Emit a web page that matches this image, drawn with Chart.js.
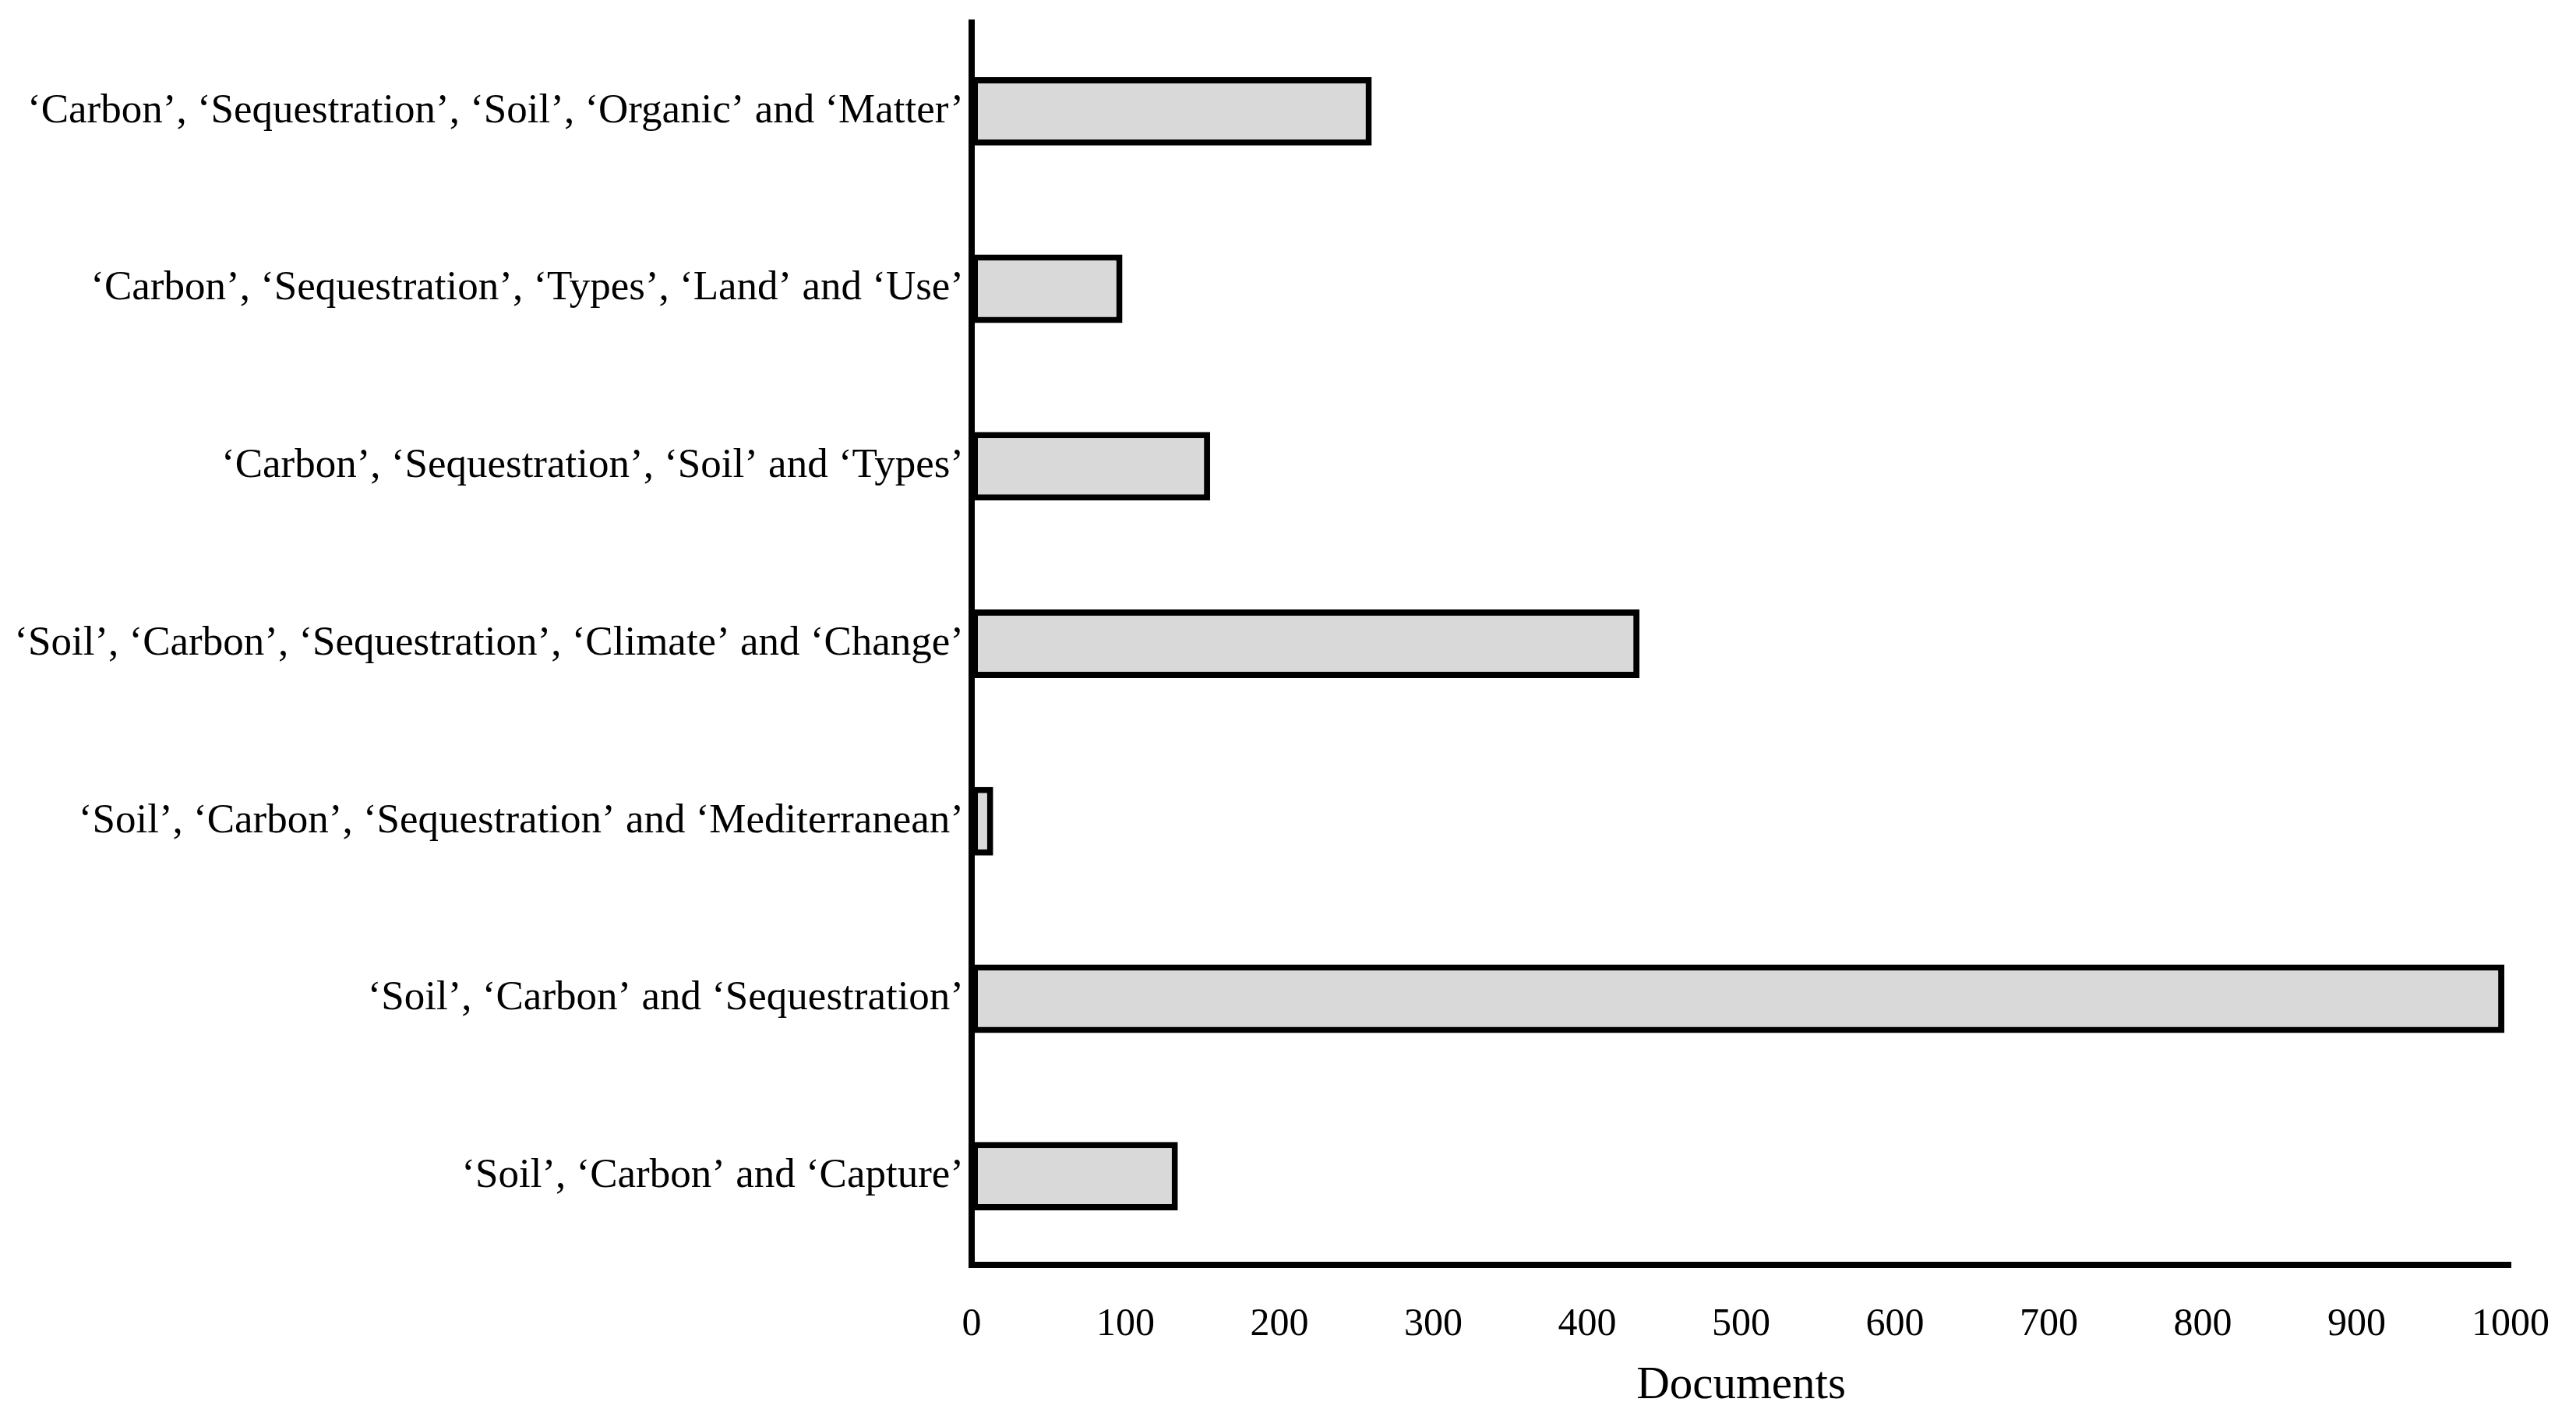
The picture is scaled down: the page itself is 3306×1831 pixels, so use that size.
<!DOCTYPE html>
<html>
<head>
<meta charset="utf-8">
<script src="https://cdn.jsdelivr.net/npm/chart.js@4.4.1/dist/chart.umd.min.js"></script>
<style>
  html, body { margin: 0; padding: 0; background: #fff; }
  canvas { display: block; }
</style>
</head>
<body>
<canvas id="myChart" width="3306" height="1831"></canvas>
<script>
const categories = [
    '\u2018Carbon\u2019, \u2018Sequestration\u2019, \u2018Soil\u2019, \u2018Organic\u2019 and \u2018Matter\u2019',
    '\u2018Carbon\u2019, \u2018Sequestration\u2019, \u2018Types\u2019, \u2018Land\u2019 and \u2018Use\u2019',
    '\u2018Carbon\u2019, \u2018Sequestration\u2019, \u2018Soil\u2019 and \u2018Types\u2019',
    '\u2018Soil\u2019, \u2018Carbon\u2019, \u2018Sequestration\u2019, \u2018Climate\u2019 and \u2018Change\u2019',
    '\u2018Soil\u2019, \u2018Carbon\u2019, \u2018Sequestration\u2019 and \u2018Mediterranean\u2019',
    '\u2018Soil\u2019, \u2018Carbon\u2019 and \u2018Sequestration\u2019',
    '\u2018Soil\u2019, \u2018Carbon\u2019 and \u2018Capture\u2019'
];
const documents = [260, 98, 155, 434, 14, 996, 134];
const xTickValues = [0, 100, 200, 300, 400, 500, 600, 700, 800, 900, 1000];
const xTitle = 'Documents';

const fontFamily = '"Liberation Serif", "DejaVu Serif", serif';

const ctx = document.getElementById('myChart').getContext('2d');

new Chart(ctx, {
    type: 'bar',
    data: {
        labels: categories,
        datasets: [{
            data: documents,
            backgroundColor: '#d9d9d9',
            borderColor: '#000',
            borderWidth: 8,
            borderSkipped: false,
            barPercentage: 0.386,
            categoryPercentage: 1
        }]
    },
    options: {
        indexAxis: 'y',
        responsive: false,
        animation: false,
        devicePixelRatio: 1,
        layout: {
            padding: { left: 0, top: 29, right: 84, bottom: 0 }
        },
        plugins: {
            legend: { display: false },
            tooltip: { enabled: false }
        },
        scales: {
            x: {
                min: 0,
                max: 1000,
                afterBuildTicks: (scale) => {
                    scale.ticks = xTickValues.map(v => ({ value: v }));
                },
                afterFit: (scale) => {
                    scale.height = 208;
                    scale.paddingLeft = 0;
                    scale.paddingRight = 0;
                },
                grid: { display: false, drawTicks: false },
                border: { color: '#000', width: 8 },
                ticks: {
                    color: '#000',
                    padding: 47,
                    maxRotation: 0,
                    callback: (value) => String(value),
                    font: { family: fontFamily, size: 50 }
                },
                title: {
                    display: true,
                    text: xTitle,
                    color: '#000',
                    padding: { top: 4, bottom: 17 },
                    font: { family: fontFamily, size: 59 }
                }
            },
            y: {
                afterFit: (scale) => {
                    scale.width = 1247;
                    scale.paddingTop = 0;
                    scale.paddingBottom = 0;
                },
                grid: { display: false, drawTicks: false },
                border: { color: '#000', width: 8 },
                ticks: {
                    color: '#000',
                    padding: 10,
                    font: { family: fontFamily, size: 53 }
                }
            }
        }
    }
});
</script>
</body>
</html>
